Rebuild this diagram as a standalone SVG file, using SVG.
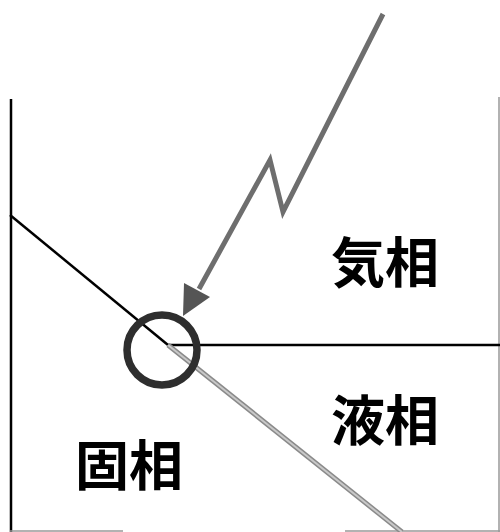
<svg xmlns="http://www.w3.org/2000/svg" width="500" height="532" viewBox="0 0 500 532">
<style>
.frame{stroke:#000;stroke-width:2.5;fill:none}
.edge{stroke:#999;stroke-width:1.5;fill:none}
.lbl{font-family:"Noto Sans CJK JP","Noto Sans CJK SC",sans-serif;font-size:54px;font-weight:bold;fill:#000}
</style>
<rect width="500" height="532" fill="#fff"/>
<g id="frame">
<line class="frame" x1="11" y1="99" x2="11" y2="532"/>
<line class="edge" x1="499" y1="97" x2="499" y2="532"/>
<line class="edge" x1="10" y1="531" x2="123" y2="531"/>
<line class="edge" x1="345" y1="531" x2="500" y2="531"/>
</g>
<g id="connectors">
<line x1="10" y1="215" x2="168" y2="345" stroke="#000" stroke-width="2.5"/>
<line x1="168" y1="345" x2="500" y2="345" stroke="#000" stroke-width="2.5"/>
<line x1="168" y1="345" x2="402" y2="532" stroke="#8a8a8a" stroke-width="5"/>
<line x1="168" y1="345" x2="402" y2="532" stroke="#c8c8c8" stroke-width="2"/>
</g>
<g id="lightning">
<polyline points="383,14 283,212 270,160 199,289" fill="none" stroke="#6e6e6e" stroke-width="5" stroke-linejoin="miter"/>
<polygon points="183,316 184,283 210,297" fill="#555"/>
</g>
<g id="circle">
<circle cx="162" cy="350" r="35" fill="none" stroke="#2e2e2e" stroke-width="7.5"/>
</g>
<g id="gas"><text class="lbl" x="331" y="283">気相</text></g>
<g id="liquid"><text class="lbl" x="331" y="441">液相</text></g>
<g id="solid"><text class="lbl" x="75" y="486">固相</text></g>
</svg>
